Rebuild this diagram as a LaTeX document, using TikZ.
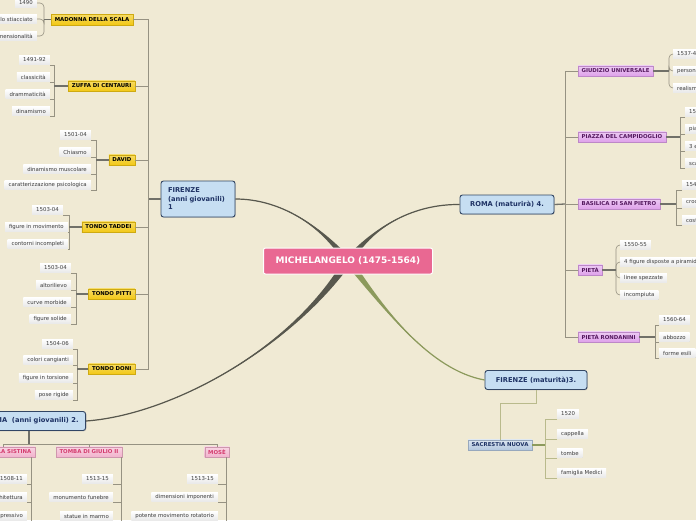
\documentclass[tikz,border=0pt]{standalone}
\usepackage{fontspec}
\setmainfont{DejaVu Sans}
\usepackage{tikz}
\usetikzlibrary{calc, shadows}
\definecolor{bgcream}{RGB}{240,234,212}
\definecolor{branchdark}{RGB}{88,88,78}
\definecolor{brancholive}{RGB}{140,154,92}
\definecolor{twiggray}{RGB}{150,146,130}
\definecolor{oliveline}{RGB}{185,186,140}
\definecolor{topicfill}{RGB}{198,222,242}
\definecolor{topicdraw}{RGB}{50,70,100}
\definecolor{topictext}{RGB}{30,50,100}
\definecolor{centrepink}{RGB}{233,104,146}
\definecolor{yellowlbl}{RGB}{242,200,20}
\definecolor{purplelbl}{RGB}{222,160,234}
\definecolor{purpletext}{RGB}{85,25,95}
\definecolor{pinklbl}{RGB}{242,178,204}
\definecolor{pinktext}{RGB}{212,60,110}
\definecolor{sacfill}{RGB}{178,198,222}
\definecolor{leaftext}{RGB}{60,60,60}
\tikzset{
  mainnode/.style={
    rectangle, rounded corners=2pt, fill=centrepink, draw=white, line width=1pt,
    text=white, font=\fontsize{9}{11}\selectfont\bfseries,
    minimum width=169pt, minimum height=26pt
  },
  topic/.style={
    rectangle, rounded corners=2.5pt, draw=topicdraw, line width=0.9pt,
    fill=topicfill, text=topictext, font=\fontsize{6.7}{8.5}\selectfont\bfseries,
    inner xsep=7pt, inner ysep=3pt, minimum height=19pt,
    drop shadow={opacity=0.3, shadow xshift=0.8pt, shadow yshift=-0.8pt}
  },
  ylabel/.style={
    rectangle, top color=yellowlbl!65!white, bottom color=yellowlbl,
    draw=yellowlbl!85!black, line width=0.3pt, text=black,
    font=\fontsize{5.4}{6}\selectfont\bfseries,
    inner xsep=3.5pt, inner ysep=1pt, minimum height=10.5pt
  },
  plabel/.style={ylabel, top color=purplelbl!55!white, bottom color=purplelbl,
    draw=purplelbl!85!black, text=purpletext},
  klabel/.style={ylabel, top color=pinklbl!55!white, bottom color=pinklbl,
    draw=pinklbl!85!black, text=pinktext},
  slabel/.style={ylabel, top color=sacfill!45!white, bottom color=sacfill,
    draw=sacfill!85!black, text=topictext},
  leaf/.style={
    rectangle, top color=white, bottom color=black!9, text=leaftext,
    font=\fontsize{5.4}{6}\selectfont,
    inner xsep=4pt, inner ysep=1pt, minimum height=9.5pt,
    drop shadow={opacity=0.15, shadow xshift=0.4pt, shadow yshift=-0.6pt}
  },
  twig/.style={draw=twiggray, line width=0.6pt},
  stem/.style={draw=branchdark!85, line width=1.3pt},
}

\begin{document}
\begin{tikzpicture}[x=1pt, y=-1pt]
  \useasboundingbox (0,0) rectangle (696,520);
  \fill[bgcream] (0,0) rectangle (696,520);

  \coordinate (c0) at (348,261);

  % topics
  \node (fir1)  [topic, align=left, text width=60pt, minimum height=36pt] at (198,199) {FIRENZE\\(anni giovanili)\\1};
  \node (roma4) [topic, minimum width=94pt] at (507,204.5) {ROMA (maturirà) 4.};
  \node (fir3)  [topic, minimum width=102pt] at (536,380) {FIRENZE (maturità)3.};
  \node (roma2) [topic, anchor=east] at (86,421) {ROMA\ \ (anni giovanili) 2.};

  % Firenze (anni giovanili)
  \node (mad) [ylabel, anchor=east] at (133,19.5) {MADONNA DELLA SCALA};
  \node (zuf) [ylabel, anchor=east] at (135,86)   {ZUFFA DI CENTAURI};
  \node (dav) [ylabel, anchor=east] at (135,160)  {DAVID};
  \node (tad) [ylabel, anchor=east] at (135,227)  {TONDO TADDEI};
  \node (pit) [ylabel, anchor=east] at (135,294)  {TONDO PITTI};
  \node (don) [ylabel, anchor=east] at (135,369)  {TONDO DONI};

  \node (md1) [leaf, anchor=east] at (37,3)  {1490};
  \node (md2) [leaf, anchor=east] at (37,19) {dello stiacciato};
  \node (md3) [leaf, anchor=east] at (37,36) {tridimensionalità};

  \node (zu1) [leaf, anchor=east] at (50,60)  {1491-92};
  \node (zu2) [leaf, anchor=east] at (50,77)  {classicità};
  \node (zu3) [leaf, anchor=east] at (50,94)  {drammaticità};
  \node (zu4) [leaf, anchor=east] at (50,111) {dinamismo};

  \node (dv1) [leaf, anchor=east] at (91,135) {1501-04};
  \node (dv2) [leaf, anchor=east] at (91,152) {Chiasmo};
  \node (dv3) [leaf, anchor=east] at (91,169) {dinamismo muscolare};
  \node (dv4) [leaf, anchor=east] at (91,185) {caratterizzazione psicologica};

  \node (td1) [leaf, anchor=east] at (63,210) {1503-04};
  \node (td2) [leaf, anchor=east] at (68,227) {figure in movimento};
  \node (td3) [leaf, anchor=east] at (68,244) {contorni incompleti};

  \node (pt1) [leaf, anchor=east] at (71,268) {1503-04};
  \node (pt2) [leaf, anchor=east] at (71,285) {altorilievo};
  \node (pt3) [leaf, anchor=east] at (71,302) {curve morbide};
  \node (pt4) [leaf, anchor=east] at (71,319) {figure solide};

  \node (dn1) [leaf, anchor=east] at (73,344) {1504-06};
  \node (dn2) [leaf, anchor=east] at (73,360) {colori cangianti};
  \node (dn3) [leaf, anchor=east] at (73,378) {figure in torsione};
  \node (dn4) [leaf, anchor=east] at (73,395) {pose rigide};

  \coordinate (ftr)  at (148,199);
  \coordinate (madj) at (44,19.5);
  \coordinate (zufj) at (54,86);
  \coordinate (davj) at (96,160);
  \coordinate (tadj) at (69,227);
  \coordinate (pitj) at (76,294);
  \coordinate (donj) at (77,369);

  \draw[stem] (fir1.west) -- (ftr);
  \foreach \n in {mad,zuf,dav,tad,pit,don}
    \draw[twig] (\n.east) -| (ftr);
  \foreach \n in {md1,md2,md3}
    \draw[twig, rounded corners=4pt] (\n.east) -| (madj);
  \foreach \n in {zu1,zu2,zu3,zu4}
    \draw[twig] (\n.south east) -| (zufj);
  \foreach \n in {dv1,dv2,dv3,dv4}
    \draw[twig] (\n.south east) -| (davj);
  \foreach \n in {td1,td2,td3}
    \draw[twig] (\n.south east) -| (tadj);
  \foreach \n in {pt1,pt2,pt3,pt4}
    \draw[twig] (\n.south east) -| (pitj);
  \foreach \n in {dn1,dn2,dn3,dn4}
    \draw[twig] (\n.south east) -| (donj);
  \draw[stem] (madj) -- (mad.west);
  \draw[stem] (zufj) -- (zuf.west);
  \draw[stem] (davj) -- (dav.west);
  \draw[stem] (tadj) -- (tad.west);
  \draw[stem] (pitj) -- (pit.west);
  \draw[stem] (donj) -- (don.west);

  % Roma (maturita)
  \node (giu) [plabel, anchor=west] at (578,71)  {GIUDIZIO UNIVERSALE};
  \node (pia) [plabel, anchor=west] at (578,137) {PIAZZA DEL CAMPIDOGLIO};
  \node (bas) [plabel, anchor=west] at (578,204) {BASILICA DI SAN PIETRO};
  \node (pie) [plabel, anchor=west] at (578,270) {PIETÀ};
  \node (ron) [plabel, anchor=west] at (578,337) {PIETÀ RONDANINI};

  \node (gi1) [leaf, anchor=west] at (673,54) {1537-41};
  \node (gi2) [leaf, anchor=west] at (673,71) {personaggi};
  \node (gi3) [leaf, anchor=west] at (673,88) {realismo};

  \node (pi1) [leaf, anchor=west] at (685,112) {1538};
  \node (pi2) [leaf, anchor=west] at (685,129) {piazza};
  \node (pi3) [leaf, anchor=west] at (685,146) {3 edifici};
  \node (pi4) [leaf, anchor=west] at (685,163) {scalinata};

  \node (bs1) [leaf, anchor=west] at (682,185) {1547};
  \node (bs2) [leaf, anchor=west] at (682,203) {croce greca};
  \node (bs3) [leaf, anchor=west] at (682,220) {costruzione};

  \node (pe1) [leaf, anchor=west] at (620,245) {1550-55};
  \node (pe2) [leaf, anchor=west] at (620,262) {4 figure disposte a piramide};
  \node (pe3) [leaf, anchor=west] at (620,278) {linee spezzate};
  \node (pe4) [leaf, anchor=west] at (620,295) {incompiuta};

  \node (rn1) [leaf, anchor=west] at (659,320) {1560-64};
  \node (rn2) [leaf, anchor=west] at (659,337) {abbozzo};
  \node (rn3) [leaf, anchor=west] at (659,353) {forme esili};

  \coordinate (rtr)  at (565,204);
  \coordinate (giuj) at (669,71);
  \coordinate (piaj) at (680,137);
  \coordinate (basj) at (676,204);
  \coordinate (piej) at (616,270);
  \coordinate (ronj) at (655,337);

  \draw[stem] (roma4.east) -- (rtr);
  \foreach \n in {giu,pia,bas,pie,ron}
    \draw[twig] (\n.west) -| (rtr);
  \foreach \n in {gi1,gi2,gi3}
    \draw[twig, rounded corners=4pt] (\n.west) -| (giuj);
  \foreach \n in {pi1,pi2,pi3,pi4}
    \draw[twig] (\n.south west) -| (piaj);
  \foreach \n in {bs1,bs2,bs3}
    \draw[twig] (\n.south west) -| (basj);
  \foreach \n in {pe1,pe2,pe3,pe4}
    \draw[twig, rounded corners=4pt] (\n.west) -| (piej);
  \foreach \n in {rn1,rn2,rn3}
    \draw[twig] (\n.south west) -| (ronj);
  \draw[stem] (giu.east) -- (giuj);
  \draw[stem] (pia.east) -- (piaj);
  \draw[stem] (bas.east) -- (basj);
  \draw[stem] (pie.east) -- (piej);
  \draw[stem] (ron.east) -- (ronj);

  % Firenze (maturita)
  \node (sac) [slabel] at (500,445) {SACRESTIA NUOVA};
  \node (sc1) [leaf, anchor=west] at (557,414) {1520};
  \node (sc2) [leaf, anchor=west] at (557,434) {cappella};
  \node (sc3) [leaf, anchor=west] at (557,453) {tombe};
  \node (sc4) [leaf, anchor=west] at (557,473) {famiglia Medici};

  \coordinate (sacj) at (545,445);
  \draw[draw=oliveline, line width=0.9pt] (fir3.south) -- ++(0,13) -| (sac.north);
  \foreach \n in {sc1,sc2,sc3,sc4}
    \draw[draw=oliveline, line width=0.6pt] (\n.south west) -| (sacj);
  \draw[draw=brancholive, line width=1.3pt] (sac.east) -- (sacj);

  % Roma (anni giovanili)
  \node (sis) [klabel, anchor=east] at (35,452) {CAPPELLA SISTINA};
  \node (tom) [klabel] at (89,452)  {TOMBA DI GIULIO II};
  \node (mos) [klabel] at (217,452) {MOSÈ};

  \node (ss1) [leaf, anchor=east] at (27,479) {1508-11};
  \node (ss2) [leaf, anchor=east] at (27,497) {architettura};
  \node (ss3) [leaf, anchor=east] at (27,516) {espressivo};

  \node (tm1) [leaf, anchor=east] at (113,479) {1513-15};
  \node (tm2) [leaf, anchor=east] at (113,497) {monumento funebre};
  \node (tm3) [leaf, anchor=east] at (113,516) {statue in marmo};

  \node (ms1) [leaf, anchor=east] at (218,479) {1513-15};
  \node (ms2) [leaf, anchor=east] at (218,497) {dimensioni imponenti};
  \node (ms3) [leaf, anchor=east] at (218,516) {potente movimento rotatorio};

  \coordinate (r2j)  at (29,444);
  \coordinate (sisj) at (31,457);
  \coordinate (tomj) at (121,457);
  \coordinate (mosj) at (226,457);

  \draw[stem] (roma2.south -| r2j) -- (r2j);
  \foreach \n in {sis,tom,mos}
    \draw[twig] (r2j) -| (\n.north);
  \foreach \n in {ss1,ss2,ss3}
    \draw[twig] (\n.south east) -| (sisj);
  \foreach \n in {tm1,tm2,tm3}
    \draw[twig] (\n.south east) -| (tomj);
  \foreach \n in {ms1,ms2,ms3}
    \draw[twig] (\n.south east) -| (mosj);

  % main branches
  \fill[branchdark] ($(c0)+(-5,0)$) .. controls (320,225) and (280,199) .. (fir1.east)
    .. controls (280,199) and (320,225) .. ($(c0)+(5,0)$) -- cycle;
  \draw[branchdark, line width=1.2pt] (c0) .. controls (320,225) and (280,199) .. (fir1.east);
  \fill[branchdark] ($(c0)+(-5,0)$) .. controls (375,225) and (415,204) .. (roma4.west)
    .. controls (415,204) and (375,225) .. ($(c0)+(5,0)$) -- cycle;
  \draw[branchdark, line width=1.2pt] (c0) .. controls (375,225) and (415,204) .. (roma4.west);
  \fill[brancholive] ($(c0)+(-5,0)$) .. controls (385,310) and (430,370) .. (fir3.west)
    .. controls (430,370) and (385,310) .. ($(c0)+(5,0)$) -- cycle;
  \draw[brancholive, line width=1.2pt] (c0) .. controls (385,310) and (430,370) .. (fir3.west);
  \fill[branchdark] ($(c0)+(-5,0)$) .. controls (290,350) and (170,415) .. (roma2.east)
    .. controls (170,415) and (290,350) .. ($(c0)+(5,0)$) -- cycle;
  \draw[branchdark, line width=1.2pt] (c0) .. controls (290,350) and (170,415) .. (roma2.east);

  \node (mich) [mainnode] at (c0) {MICHELANGELO (1475-1564)};
\end{tikzpicture}
\end{document}
